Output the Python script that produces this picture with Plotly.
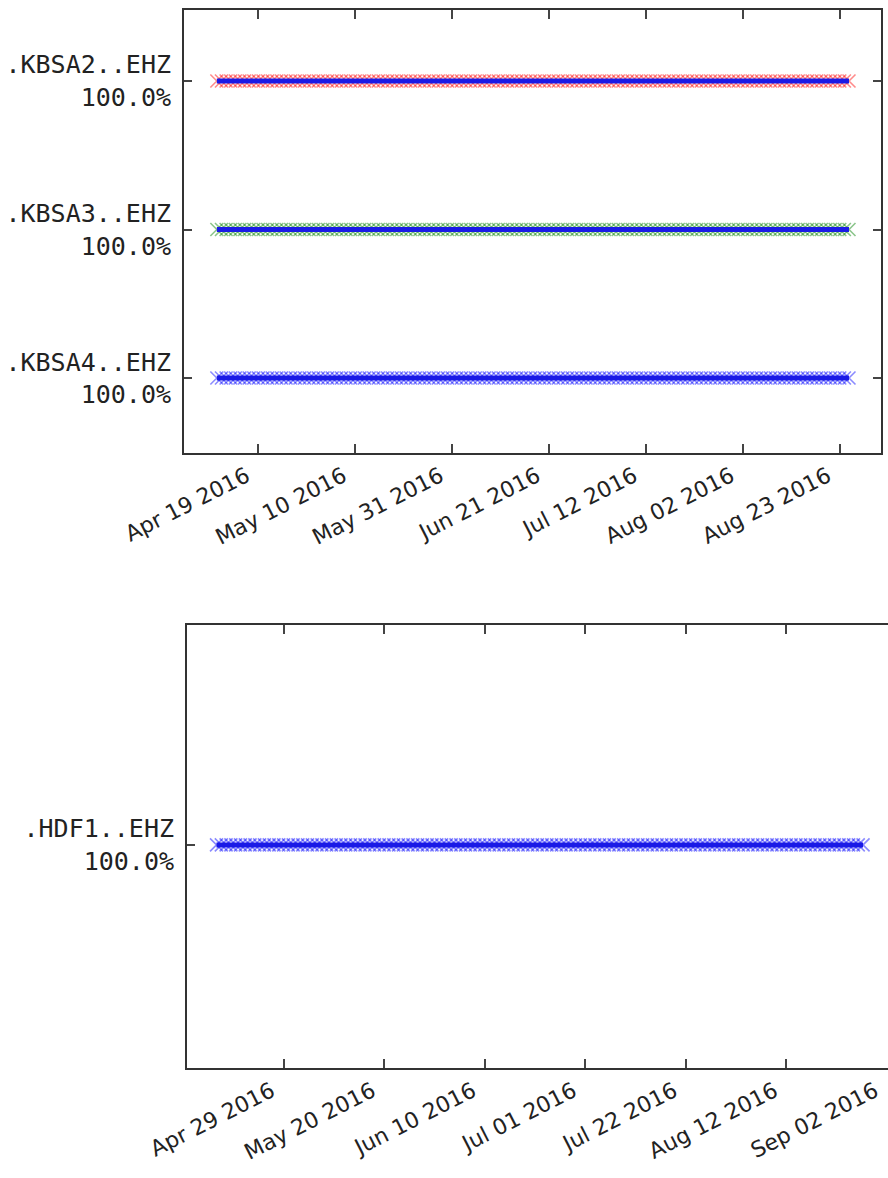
import pandas as pd
import plotly.graph_objects as go

# ---- data availability per channel -------------------------------------
top_stations = [".KBSA2..EHZ", ".KBSA3..EHZ", ".KBSA4..EHZ"]
top_rows = [2, 1, 0]
top_coverage = ["100.0%", "100.0%", "100.0%"]
top_colors = ["red", "green", "blue"]
top_start = ["2016-04-10", "2016-04-10", "2016-04-10"]
top_end = ["2016-08-25", "2016-08-25", "2016-08-25"]
top_ticks = ["2016-04-19", "2016-05-10", "2016-05-31", "2016-06-21",
             "2016-07-12", "2016-08-02", "2016-08-23"]
top_xrange = ["2016-04-02 21:00", "2016-08-31 22:30"]

bottom_stations = [".HDF1..EHZ"]
bottom_rows = [0]
bottom_coverage = ["100.0%"]
bottom_colors = ["blue"]
bottom_start = ["2016-04-15"]
bottom_end = ["2016-08-28"]
bottom_ticks = ["2016-04-29", "2016-05-20", "2016-06-10", "2016-07-01",
                "2016-07-22", "2016-08-12", "2016-09-02"]
bottom_xrange = ["2016-04-08 20:00", "2016-09-02 05:00"]

fig = go.Figure()


def add_channels(rows, colors, starts, ends, xa, ya):
    for row, col, s, e in zip(rows, colors, starts, ends):
        files = pd.date_range(s, e, freq="D")
        # one cross per file start
        fig.add_trace(go.Scatter(
            x=files, y=[row] * len(files), mode="markers",
            marker=dict(symbol="x-thin", size=13, opacity=0.45,
                        line=dict(color=col, width=1.6)),
            xaxis=xa, yaxis=ya, showlegend=False, hoverinfo="x"))
        # continuous data segment
        fig.add_trace(go.Scatter(
            x=[files[0], files[-1]], y=[row, row], mode="lines",
            line=dict(color="#1a1ae6", width=5),
            xaxis=xa, yaxis=ya, showlegend=False, hoverinfo="skip"))


add_channels(top_rows, top_colors, top_start, top_end, "x", "y")
add_channels(bottom_rows, bottom_colors, bottom_start, bottom_end, "x2", "y2")

tick_font = dict(family="DejaVu Sans", size=22, color="#222")
label_font = dict(family="DejaVu Sans Mono", size=25, color="#222")

xcommon = dict(showline=True, linecolor="#333", linewidth=2, ticks="inside",
               ticklen=9, tickwidth=1.5, tickcolor="#444", showgrid=False,
               zeroline=False, tickangle=-27, tickformat="%b %d %Y",
               tickfont=tick_font, automargin=False, ticklabelshift=-12,
               ticklabeloverflow="allow")
ycommon = dict(showline=True, linecolor="#333", linewidth=2, ticks="inside",
               ticklen=8, tickwidth=1.5, tickcolor="#444", showgrid=False,
               zeroline=False, tickfont=label_font, ticklabelstandoff=6,
               automargin=False)

fig.update_layout(
    width=888, height=1178,
    margin=dict(l=0, r=0, t=0, b=0),
    paper_bgcolor="white", plot_bgcolor="white",
    xaxis=dict(xcommon, domain=[184 / 888, 881 / 888], range=top_xrange,
               tickvals=top_ticks, mirror="ticks", anchor="y"),
    yaxis=dict(ycommon, domain=[1 - 453 / 1178, 1 - 10 / 1178],
               range=[-0.505, 2.478], tickvals=top_rows,
               ticktext=[f"{s}<br>{c}" for s, c in zip(top_stations, top_coverage)],
               mirror="ticks", anchor="x"),
    xaxis2=dict(xcommon, domain=[187 / 888, 1.0], range=bottom_xrange,
                tickvals=bottom_ticks, mirror="ticks", anchor="y2"),
    yaxis2=dict(ycommon, domain=[1 - 1068 / 1178, 1 - 625 / 1178],
                range=[-1.502, 1.481], tickvals=bottom_rows,
                ticktext=[f"{s}<br>{c}" for s, c in zip(bottom_stations, bottom_coverage)],
                mirror=False, anchor="x2"),
)

fig.write_html("out.html")
